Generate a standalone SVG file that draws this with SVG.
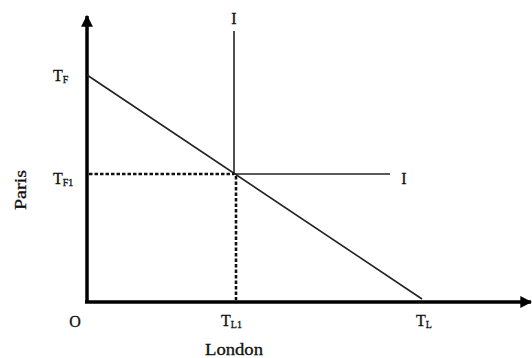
<svg xmlns="http://www.w3.org/2000/svg" width="532" height="358" viewBox="0 0 532 358">
<style>
text{font-family:"Liberation Serif","Times New Roman",serif;font-size:16px;fill:#111;stroke:#111;stroke-width:0.3}
.sub{font-size:10px}
.axis{stroke:#000;stroke-width:3.5;fill:none}
.thin{stroke:#222;stroke-width:1.6;fill:none}
.dash{stroke:#111;stroke-width:2.6;stroke-dasharray:3.5 2;fill:none}
</style>
<defs>
<marker id="ah" viewBox="0 0 10 10" refX="9" refY="5" markerWidth="3.4" markerHeight="3.4" orient="auto">
<path d="M0,0 L10,5 L0,10 Z" fill="#000"/>
</marker>
</defs>
<rect width="532" height="358" fill="#fff"/>
<g id="connectors">
<line id="y-axis" class="axis" x1="87" y1="303" x2="87" y2="16" marker-end="url(#ah)"/>
<line id="x-axis" class="axis" x1="85" y1="302" x2="531" y2="302" marker-end="url(#ah)"/>
<line id="tf-tl" class="thin" x1="87" y1="75" x2="422" y2="299"/>
<line id="i-vert" class="thin" x1="234" y1="31" x2="234" y2="174"/>
<line id="i-horiz" class="thin" x1="234" y1="174" x2="390" y2="174"/>
<line id="dash-h" class="dash" x1="89" y1="174" x2="234" y2="174"/>
<line id="dash-v" class="dash" x1="236" y1="176" x2="236" y2="300"/>
</g>
<g id="label-i-top"><text x="234" y="24" text-anchor="middle">I</text></g>
<g id="label-i-right"><text x="404" y="184" text-anchor="middle">I</text></g>
<g id="label-tf"><text x="53" y="81">T<tspan class="sub" dy="2">F</tspan></text></g>
<g id="label-tf1"><text x="53" y="184">T<tspan class="sub" dy="2">F1</tspan></text></g>
<g id="label-paris"><text transform="translate(26,190) rotate(-90)" text-anchor="middle" textLength="40" lengthAdjust="spacingAndGlyphs">Paris</text></g>
<g id="label-o"><text x="75" y="327" text-anchor="middle">O</text></g>
<g id="label-tl1"><text x="221" y="326">T<tspan class="sub" dy="2">L1</tspan></text></g>
<g id="label-tl"><text x="416" y="326">T<tspan class="sub" dy="2">L</tspan></text></g>
<g id="label-london"><text x="234" y="355" text-anchor="middle" textLength="58" lengthAdjust="spacingAndGlyphs">London</text></g>
</svg>
